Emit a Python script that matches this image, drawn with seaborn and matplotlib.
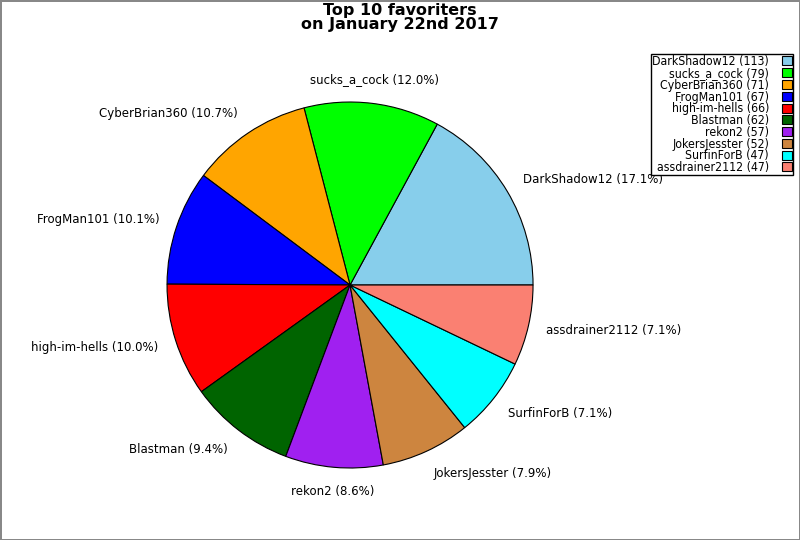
import matplotlib
matplotlib.use('Agg')
import matplotlib.pyplot as plt
import matplotlib.transforms as mtransforms
from matplotlib import font_manager
import seaborn as sns

# Favoriter counts
names = ['DarkShadow12', 'sucks_a_cock', 'CyberBrian360', 'FrogMan101', 'high-im-hells',
         'Blastman', 'rekon2', 'JokersJesster', 'SurfinForB', 'assdrainer2112']
counts = [113, 79, 71, 67, 66, 62, 57, 52, 47, 47]
colors = ['#87CEEB', '#00FF00', '#FFA500', '#0000FF', '#FF0000',
          '#006400', '#A020F0', '#CD853F', '#00FFFF', '#FA8072']

sns.set_theme(style='white')
plt.rcParams['font.family'] = ['DejaVu Sans']

total = sum(counts)
pie_labels = [f'{n} ({c / total * 100:.1f}%)' for n, c in zip(names, counts)]
legend_labels = [f'{n} ({c})' for n, c in zip(names, counts)]

fig = plt.figure(figsize=(8, 5.4), dpi=100)
fig.patch.set_edgecolor('#888888')
fig.patch.set_linewidth(2)

ax = fig.add_axes([0.1516, 0.0486, 0.5719, 0.8472])
wedges, texts = ax.pie(counts, labels=pie_labels, colors=colors, startangle=0,
                       counterclock=True, labeldistance=1.1,
                       wedgeprops={'edgecolor': 'black', 'linewidth': 0.8},
                       textprops={'fontsize': 8.5, 'color': 'black'})
ax.set_aspect('equal')

# labels near top / bottom are centered and nudged away from the pie
for t in texts:
    x, y = t.get_position()
    r = (x ** 2 + y ** 2) ** 0.5
    if abs(x) / r < 0.2:
        t.set_ha('center')
    t.set_transform(mtransforms.offset_copy(ax.transData, fig=fig, x=0, y=4 * y / r, units='points'))

fig.suptitle('Top 10 favoriters\non January 22nd 2017', fontsize=11.5, color='black',
             fontweight='bold', y=0.995, linespacing=0.95)

leg_font = font_manager.FontProperties(family='DejaVu Sans', stretch='condensed', size=8.8)
leg = fig.legend(wedges, legend_labels, loc='upper right', bbox_to_anchor=(0.991, 0.9),
                 borderaxespad=0, markerfirst=False, prop=leg_font, labelspacing=-0.1,
                 handlelength=0.75, handleheight=0.75, handletextpad=1.1,
                 borderpad=0.1, fancybox=False, framealpha=1)
leg.get_frame().set_edgecolor('black')
leg.get_frame().set_linewidth(1)
for t in leg.get_texts():
    t.set_ha('right')
    t.set_color('black')
leg._legend_box.align = 'right'

fig.savefig('out.png', dpi=100, edgecolor=fig.get_edgecolor())
